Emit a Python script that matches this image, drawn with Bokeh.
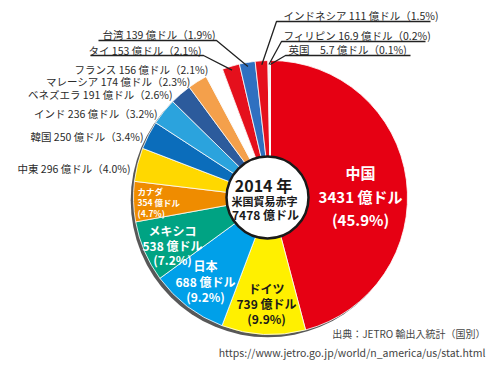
import math
from bokeh.plotting import figure
from bokeh.models import Range1d, ColumnDataSource
from bokeh.core.properties import value
from bokeh.embed import file_html
from bokeh.resources import INLINE

# ---------------- data ----------------
countries = ["中国", "ドイツ", "日本", "メキシコ", "カナダ", "中東", "韓国", "インド",
             "ベネズエラ", "マレーシア", "フランス", "タイ", "台湾", "インドネシア",
             "フィリピン", "英国"]
values = [3431, 739, 688, 538, 354, 296, 250, 236, 191, 174, 156, 153, 139, 111, 16.9, 5.7]
value_labels = ["3431", "739", "688", "538", "354", "296", "250", "236", "191", "174",
                "156", "153", "139", "111", "16.9", "5.7"]
percents = ["45.9", "9.9", "9.2", "7.2", "4.7", "4.0", "3.4", "3.2", "2.6", "2.3",
            "2.1", "2.1", "1.9", "1.5", "0.2", "0.1"]
total_label = "7478"
year_label = "2014"

# ---------------- styles ----------------
colors = ["#e60013", "#fff000", "#00a0e9", "#00a383", "#ef8c00", "#ffd800", "#0b6dbb",
          "#2ba3dd", "#2c5b9c", "#f4a04b", "#ffffff", "#e5101c", "#2f70c0", "#e5101c",
          "#f2f2f2", "#9a9a9a"]
FONT = value("Noto Sans CJK JP")

W, H = 500, 365
def Y(iy):
    return H - iy

CX, CY, R = 270, Y(197), 137

p = figure(width=W, height=H, x_range=Range1d(0, W), y_range=Range1d(0, H),
           output_backend="svg", toolbar_location=None, min_border=0)
p.axis.visible = False
p.grid.visible = False
p.outline_line_color = None
p.background_fill_color = "white"
p.border_fill_color = "white"

# shadow rim
p.circle(x=CX - 2.8, y=CY - 2.8, radius=R, fill_color="#585858", line_color=None)

total = sum(values)
starts, ends, mids = [], [], []
cum = 0.0
for v in values:
    a0 = math.pi / 2 - 2 * math.pi * cum / total
    cum += v
    a1 = math.pi / 2 - 2 * math.pi * cum / total
    starts.append(a1)
    ends.append(a0)
    mids.append((a0 + a1) / 2)

src = ColumnDataSource(dict(start=starts, end=ends, color=colors))
p.wedge(x=CX, y=CY, radius=R, start_angle="start", end_angle="end",
        fill_color="color", line_color="white", line_width=0.8, source=src)

# center circle
p.circle(x=267, y=Y(197), radius=41, fill_color="white", line_color="#1a1a1a", line_width=2.5)


def txt(x, iy, s, size, color, bold=False, align="left"):
    p.text(x=[x], y=[Y(iy)], text=[s], text_font=FONT,
           text_font_size=value(f"{size}px"),
           text_font_style="bold" if bold else "normal",
           text_color=color, text_align=align, text_baseline="middle")


def idx(name):
    return countries.index(name)


def outside(name, sep=" "):
    i = idx(name)
    return f"{name}{sep}{value_labels[i]} 億ドル（{percents[i]}%)"

# center text
txt(263, 184, f"{year_label} 年", 16, "#1a1a1a", True, "center")
txt(264, 200, "米国貿易赤字", 11, "#1a1a1a", True, "center")
txt(265, 214, f"{total_label} 億ドル", 12, "#1a1a1a", True, "center")

# inside labels: (name, x, y lines, size, color, align)
inside = [
    ("中国", 360, [172, 196, 219], 15, "white", "center"),
    ("ドイツ", 266, [288, 303, 318], 12, "#1a1a1a", "center"),
    ("日本", 205, [265, 281, 296], 12, "white", "center"),
    ("メキシコ", 172, [230, 245, 259], 12, "white", "center"),
    ("カナダ", 137, [190, 201, 212], 8.5, "white", "left"),
]
for name, x, ys, size, color, align in inside:
    i = idx(name)
    lines = [name, f"{value_labels[i]} 億ドル", f"({percents[i]}%)"]
    for s, iy in zip(lines, ys):
        txt(x, iy, s, size, color, True, align)

LBL = "#2a2a2a"
# outside labels without leaders (right aligned)
plain = [("中東", 130, 168), ("韓国", 143, 136), ("インド", 157, 113),
         ("ベネズエラ", 172, 94), ("マレーシア", 190, 81), ("フランス", 208, 69)]
for name, x, iy in plain:
    txt(x, iy, outside(name), 10.5, LBL, False, "right")

# leader labels
RL = R - 4
def slice_pt(name):
    a = mids[idx(name)]
    return CX + RL * math.cos(a), CY + RL * math.sin(a)

left_leaders = [("台湾", 215, 34, 98, 216, 40), ("タイ", 201, 50, 90, 203, 55)]
for name, x, iy, ux0, ux1, uy in left_leaders:
    txt(x, iy, outside(name), 10.5, LBL, False, "right")
    sx, sy = slice_pt(name)
    p.line(x=[ux0, ux1, sx], y=[Y(uy), Y(uy), sy], line_color="#222222", line_width=1.3)

right_leaders = [("インドネシア", 283, 15, 276, 430, 21), ("フィリピン", 283, 35, 281, 425, 41),
                 ("英国", 288, 49, 285, 410, 55)]
for name, x, iy, ux0, ux1, uy in right_leaders:
    s = outside(name, "　") if name == "英国" else outside(name)
    txt(x, iy, s, 10.5, LBL, False, "left")
    sx, sy = slice_pt(name)
    p.line(x=[ux1, ux0, sx], y=[Y(uy), Y(uy), sy], line_color="#222222", line_width=1.3)

# source
txt(485, 333, "出典：JETRO 輸出入統計（国別）", 10, "#444444", False, "right")
txt(485, 352, "https://www.jetro.go.jp/world/n_america/us/stat.html", 10.5, "#444444", False, "right")

open("out.html", "w").write(file_html(p, INLINE))
